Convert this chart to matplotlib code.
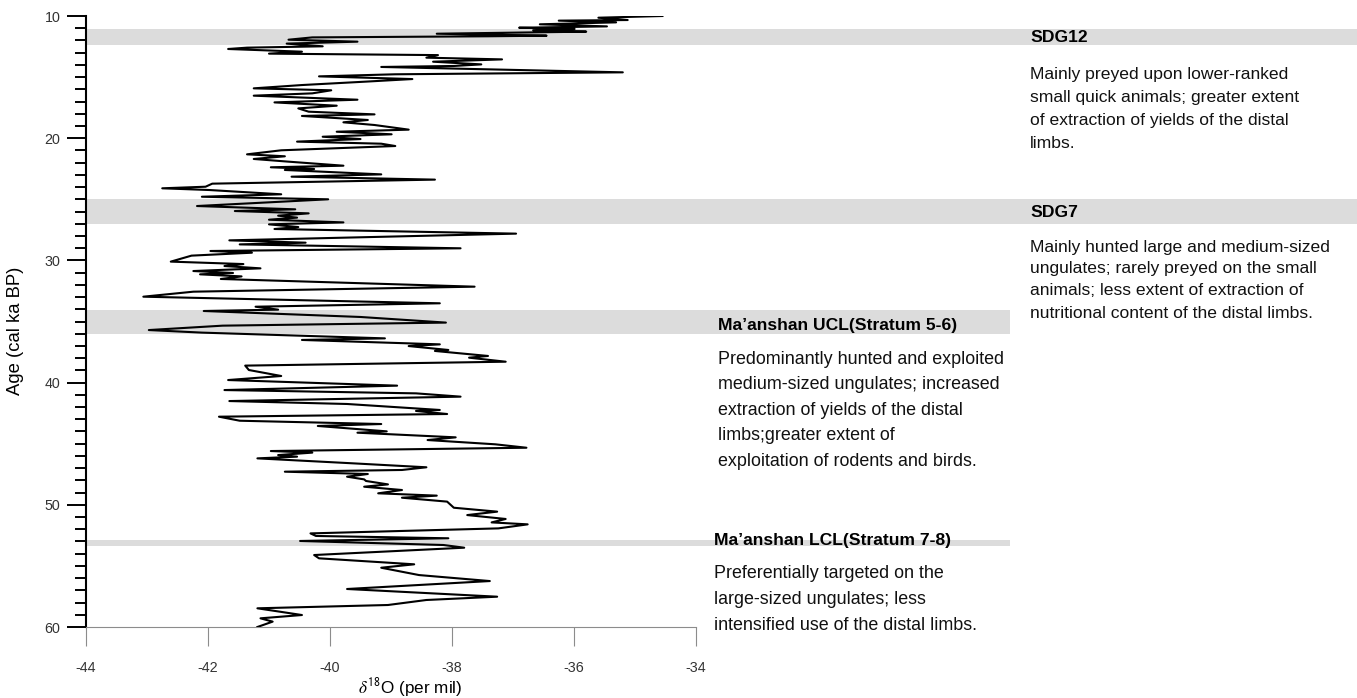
import numpy as np
import matplotlib
matplotlib.use("Agg")
import matplotlib.pyplot as plt
from matplotlib.ticker import MultipleLocator

plt.rcParams['font.family'] = ['Liberation Sans', 'DejaVu Sans']
plt.rcParams['mathtext.fontset'] = 'stix'
plt.rcParams['axes.unicode_minus'] = False

# ice core record: age (cal ka BP) and d18O (per mil)
age = [10.00, 10.14, 10.33, 10.38, 10.52, 10.68, 10.85, 10.96, 11.06, 11.17,
       11.28, 11.45, 11.61, 11.66, 11.75, 11.94, 12.10, 12.26, 12.48, 12.59,
       12.70, 12.92, 13.08, 13.20, 13.41, 13.55, 13.74, 13.96, 14.09, 14.17,
       14.45, 14.61, 14.77, 14.94, 15.16, 15.37, 15.65, 15.92, 16.08, 16.33,
       16.52, 16.85, 17.07, 17.34, 17.56, 17.83, 18.05, 18.18, 18.51, 18.70,
       18.92, 19.30, 19.47, 19.68, 19.88, 20.07, 20.28, 20.45, 20.64, 20.83,
       20.99, 21.32, 21.48, 21.70, 21.92, 22.25, 22.38, 22.52, 22.60, 22.96,
       23.15, 23.39, 23.72, 23.97, 24.10, 24.24, 24.59, 24.79, 25.00, 25.25,
       25.55, 25.82, 25.96, 26.15, 26.34, 26.50, 26.67, 26.89, 27.05, 27.27,
       27.43, 27.81, 28.36, 28.55, 28.69, 29.01, 29.23, 29.37, 29.61, 30.10,
       30.30, 30.46, 30.65, 30.87, 31.03, 31.14, 31.31, 31.52, 32.15, 32.56,
       32.97, 33.51, 33.79, 34.03, 34.14, 34.63, 35.09, 35.34, 35.70, 35.91,
       36.38, 36.51, 36.87, 37.01, 37.33, 37.41, 37.82, 37.96, 38.29, 38.61,
       38.97, 39.46, 39.79, 40.25, 40.61, 40.88, 41.15, 41.51, 41.75, 42.24,
       42.32, 42.57, 42.79, 43.12, 43.39, 43.55, 43.99, 44.10, 44.48, 44.70,
       45.05, 45.33, 45.60, 45.73, 45.93, 46.06, 46.20, 46.61, 46.93, 47.15,
       47.29, 47.48, 47.70, 47.92, 48.05, 48.33, 48.52, 48.79, 49.06, 49.25,
       49.42, 49.74, 50.24, 50.56, 50.84, 51.16, 51.44, 51.60, 51.93, 52.34,
       52.55, 52.74, 52.96, 53.29, 53.51, 54.11, 54.38, 54.87, 55.15, 55.75,
       56.24, 56.89, 57.52, 57.79, 58.20, 58.47, 59.02, 59.29, 59.56, 60.00]
d18o = [-34.55, -35.60, -35.12, -36.25, -35.31, -36.56, -35.46, -36.90, -35.99, -36.67,
        -35.80, -38.25, -36.45, -37.41, -40.29, -40.68, -39.55, -40.71, -40.12, -41.36,
        -41.67, -40.46, -41.00, -38.23, -38.42, -37.18, -38.31, -37.52, -37.97, -39.16,
        -36.61, -35.20, -38.93, -40.18, -38.65, -39.41, -40.46, -41.25, -39.98, -40.29,
        -41.25, -39.55, -40.91, -39.89, -40.52, -40.35, -39.27, -40.46, -39.38, -39.78,
        -39.27, -38.71, -39.89, -38.99, -40.12, -39.50, -40.54, -39.16, -38.93, -39.95,
        -40.80, -41.36, -40.74, -41.25, -40.68, -39.78, -40.97, -40.26, -40.74, -39.16,
        -40.63, -38.28, -41.93, -42.04, -42.75, -41.98, -40.80, -42.10, -40.03, -41.02,
        -42.18, -40.57, -41.56, -40.35, -40.85, -40.54, -41.00, -39.78, -41.00, -40.52,
        -40.91, -36.95, -41.65, -40.40, -41.48, -37.86, -41.96, -41.28, -42.27, -42.61,
        -41.42, -41.73, -41.14, -42.24, -41.59, -42.13, -41.45, -41.79, -37.63, -42.24,
        -43.06, -38.20, -41.22, -40.85, -42.07, -39.50, -38.10, -41.76, -42.97, -42.10,
        -39.10, -40.46, -38.20, -38.71, -38.06, -38.28, -37.41, -37.72, -37.12, -41.39,
        -41.33, -40.80, -41.67, -38.90, -41.73, -38.59, -37.86, -41.65, -39.72, -38.20,
        -38.59, -38.08, -41.82, -41.48, -39.16, -40.20, -39.07, -39.55, -37.94, -38.40,
        -37.29, -36.78, -40.97, -40.29, -40.85, -40.54, -41.19, -39.61, -38.42, -38.82,
        -40.74, -39.38, -39.72, -39.44, -39.41, -39.05, -39.44, -38.82, -39.21, -38.25,
        -38.82, -38.08, -37.97, -37.26, -37.75, -37.12, -37.35, -36.76, -37.24, -40.32,
        -40.23, -38.06, -40.49, -38.14, -37.80, -40.26, -40.18, -38.62, -39.16, -38.54,
        -37.38, -39.72, -37.26, -38.42, -39.05, -41.19, -40.46, -41.14, -40.94, -41.19]

# shaded intervals (ka) and how far they stretch to the right (axes fraction)
band_start = [11.1, 25.0, 34.05, 52.9]
band_end = [12.4, 27.0, 36.0, 53.4]
band_reach = [2.09, 2.09, 1.515, 1.515]

titles = ["SDG12", "SDG7", "Ma\u2019anshan UCL(Stratum 5-6)", "Ma\u2019anshan LCL(Stratum 7-8)"]
notes = [
    ["Mainly preyed upon lower-ranked", "small quick animals; greater extent",
     "of extraction of yields of the distal", "limbs."],
    ["Mainly hunted large and medium-sized", "ungulates; rarely preyed on the small",
     "animals; less extent of extraction of", "nutritional content of the distal limbs."],
    ["Predominantly hunted and exploited", "medium-sized ungulates; increased",
     "extraction of yields of the distal", "limbs;greater extent of",
     "exploitation of rodents and birds."],
    ["Preferentially targeted on the", "large-sized ungulates; less",
     "intensified use of the distal limbs."],
]

W, H = 1357, 698
fig = plt.figure(figsize=(W / 100, H / 100), dpi=100)
ax = fig.add_axes([86 / W, 1 - 627 / H, 610 / W, 611 / H])

for s, e, r in zip(band_start, band_end, band_reach):
    ax.axhspan(s, e, xmin=0, xmax=r, color='#dcdcdc', lw=0, zorder=0, clip_on=False)

ax.plot(d18o, age, color='black', lw=1.5, zorder=3)

ax.set_xlim(-44, -34)
ax.set_ylim(60, 10)
ax.set_xticks(np.arange(-44, -33, 2))
ax.yaxis.set_major_locator(MultipleLocator(10))
ax.yaxis.set_minor_locator(MultipleLocator(1))

ax.spines['top'].set_visible(False)
ax.spines['right'].set_visible(False)
ax.spines['left'].set_linewidth(1.5)
ax.spines['bottom'].set_color('#8c8c8c')
ax.spines['bottom'].set_linewidth(0.8)

ax.tick_params(axis='y', which='major', direction='out', length=14, width=1.4,
               color='black', labelsize=10.3, labelcolor='#333333', pad=4.5)
ax.tick_params(axis='y', which='minor', direction='out', length=8, width=1.4, color='black')
ax.tick_params(axis='x', direction='out', length=14, width=0.8, color='#8c8c8c',
               labelsize=10.3, labelcolor='#333333', pad=10.5)

ax.set_ylabel('Age (cal ka BP)', fontsize=13.3)
ax.yaxis.set_label_coords(-0.102, 0.484)
ax.set_xlabel(r'$\delta^{\mathsf{18}}$O (per mil)', fontsize=12.3)
ax.xaxis.set_label_coords(0.531, -0.081)

# annotations: (x px, title y px, first line y px, line step px)
layout = [(1030, 38, 74, 23.2), (1030, 212, 247, 22),
          (718, 326, 359, 25.5), (714, 541, 574, 25.5)]
for i, (x, ty, ly, step) in enumerate(layout):
    fig.text(x / W, 1 - ty / H, titles[i], fontweight='bold',
             fontsize=12.6, va='center', ha='left')
    body_size = 12.6 if i < 2 else 12.9
    for j, line in enumerate(notes[i]):
        fig.text(x / W, 1 - (ly + j * step) / H, line,
                 fontsize=body_size, va='center', ha='left', color='#111111')

fig.savefig('out.png', dpi=100)
